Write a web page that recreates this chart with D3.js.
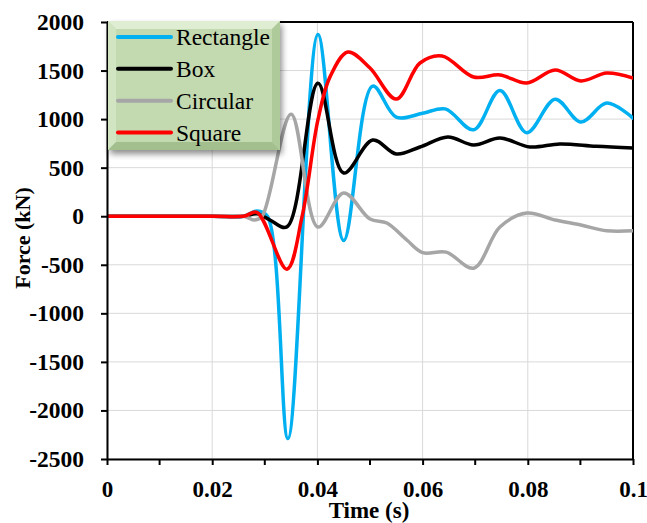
<!DOCTYPE html>
<html>
<head>
<meta charset="utf-8">
<script src="https://cdn.jsdelivr.net/npm/d3@7"></script>
<style>
  html, body { margin: 0; padding: 0; background: #fff; }
  svg { display: block; }
  text { font-family: "Liberation Serif", "Times New Roman", serif; }
</style>
</head>
<body>
<svg id="chart" width="647" height="523"></svg>
<script>
// Force histories (time in s, force in kN)
const rectangleT = [0, 0.02, 0.026, 0.0285, 0.0305, 0.0344, 0.0401, 0.0450, 0.0505, 0.0550, 0.0600, 0.0643, 0.0697, 0.0747, 0.0798, 0.0852, 0.0901, 0.0950, 0.1];
const rectangleF = [0, 0, 0, 55, 0, -2290, 1870, -250, 1340, 1020, 1060, 1105, 890, 1295, 860, 1205, 970, 1165, 1010];

const boxT = [0, 0.02, 0.026, 0.0285, 0.0310, 0.0342, 0.0401, 0.0450, 0.0505, 0.0550, 0.0595, 0.0648, 0.0697, 0.0747, 0.0804, 0.0861, 0.0930, 0.1];
const boxF = [0, 0, 0, 25, -40, -110, 1370, 445, 785, 641, 713, 816, 733, 805, 713, 744, 720, 703];

const circularT = [0, 0.02, 0.026, 0.0281, 0.0295, 0.0350, 0.0401, 0.0450, 0.0500, 0.0532, 0.0570, 0.0600, 0.0645, 0.0697, 0.0747, 0.0798, 0.0852, 0.0901, 0.0950, 0.1];
const circularF = [0, 0, 0, -40, 0, 1050, -111, 239, -29, -70, -245, -375, -370, -535, -111, 33, -39, -91, -150, -150];

const squareT = [0, 0.02, 0.026, 0.0285, 0.0342, 0.0371, 0.0401, 0.0424, 0.0458, 0.0500, 0.0550, 0.0595, 0.0637, 0.0697, 0.0747, 0.0798, 0.0852, 0.0901, 0.0950, 0.1];
const squareF = [0, 0, 0, 40, -545, 0, 991, 1435, 1691, 1526, 1206, 1578, 1650, 1433, 1455, 1372, 1506, 1393, 1475, 1423];

const seriesNames = ["Rectangle", "Box", "Circular", "Square"];
const seriesColors = ["#00b0f0", "#000000", "#a6a6a6", "#ff0000"];

const xTicks = [0, 0.02, 0.04, 0.06, 0.08, 0.1];
const xTickLabels = ["0", "0.02", "0.04", "0.06", "0.08", "0.1"];
const xMinorTicks = [0.01, 0.03, 0.05, 0.07, 0.09];
const yTicks = [-2500, -2000, -1500, -1000, -500, 0, 500, 1000, 1500, 2000];

const series = [
  { name: seriesNames[0], color: seriesColors[0], t: rectangleT, f: rectangleF },
  { name: seriesNames[1], color: seriesColors[1], t: boxT, f: boxF },
  { name: seriesNames[2], color: seriesColors[2], t: circularT, f: circularF },
  { name: seriesNames[3], color: seriesColors[3], t: squareT, f: squareF }
];

const svg = d3.select("#chart");
const plotL = 107, plotR = 633, plotT = 22, plotB = 459;
const serif = "'Liberation Serif', 'Times New Roman', serif";

const x = d3.scaleLinear().domain([0, 0.1]).range([plotL, plotR]);
const y = d3.scaleLinear().domain([-2500, 2000]).range([plotB, plotT]);

const defs = svg.append("defs");
defs.append("clipPath").attr("id", "plotClip")
  .append("rect").attr("x", plotL).attr("y", plotT).attr("width", plotR - plotL).attr("height", plotB - plotT);

// Gridlines
const grid = svg.append("g");
grid.selectAll("line.hy").data(yTicks).join("line")
  .attr("class", "hy")
  .attr("x1", plotL).attr("x2", plotR)
  .attr("y1", d => y(d)).attr("y2", d => y(d))
  .attr("stroke", "#d9d9d9").attr("stroke-width", 1);
grid.selectAll("line.vx").data(xTicks).join("line")
  .attr("class", "vx")
  .attr("y1", plotT).attr("y2", plotB)
  .attr("x1", d => x(d)).attr("x2", d => x(d))
  .attr("stroke", "#d9d9d9").attr("stroke-width", 1);

// Frame (top and right)
svg.append("line").attr("x1", plotL).attr("x2", plotR).attr("y1", plotT).attr("y2", plotT)
  .attr("stroke", "#000").attr("stroke-width", 2);
svg.append("line").attr("x1", plotR).attr("x2", plotR).attr("y1", plotT).attr("y2", plotB)
  .attr("stroke", "#000").attr("stroke-width", 2);

// Lines
const line = d3.line()
  .x(d => x(d[0])).y(d => y(d[1]))
  .curve(d3.curveCatmullRom.alpha(0.5));

const lines = svg.append("g").attr("clip-path", "url(#plotClip)");
series.forEach(s => {
  const pts = s.t.map((t, i) => [t, s.f[i]]);
  lines.append("path").datum(pts)
    .attr("d", line)
    .attr("fill", "none")
    .attr("stroke", s.color)
    .attr("stroke-width", 3.5)
    .attr("stroke-linejoin", "round")
    .attr("stroke-linecap", "round");
});

// Axes
const xAxis = d3.axisBottom(x).tickValues(xTicks).tickFormat((d, i) => xTickLabels[i]).tickSize(6).tickSizeOuter(0);
const gx = svg.append("g").attr("transform", `translate(0,${plotB})`).call(xAxis);
gx.select(".domain").attr("stroke", "#000").attr("stroke-width", 2);
gx.selectAll(".tick line").attr("stroke", "#000").attr("stroke-width", 2);
gx.selectAll(".tick text")
  .attr("font-family", serif)
  .attr("font-size", 23).attr("font-weight", "bold").attr("fill", "#000")
  .attr("y", 38).attr("dy", null);
gx.selectAll("line.minor").data(xMinorTicks).join("line")
  .attr("class", "minor")
  .attr("x1", d => x(d)).attr("x2", d => x(d))
  .attr("y1", 0).attr("y2", 6)
  .attr("stroke", "#000").attr("stroke-width", 2);

const yAxis = d3.axisLeft(y).tickValues(yTicks).tickFormat(d => String(d)).tickSize(6).tickSizeOuter(0);
const gy = svg.append("g").attr("transform", `translate(${plotL},0)`).call(yAxis);
gy.select(".domain").attr("stroke", "#000").attr("stroke-width", 2);
gy.selectAll(".tick line").attr("stroke", "#000").attr("stroke-width", 2);
gy.selectAll(".tick text")
  .attr("font-family", serif)
  .attr("font-size", 23.5).attr("font-weight", "bold").attr("fill", "#000")
  .attr("text-anchor", "end")
  .attr("x", -23);

// Axis titles
svg.append("text")
  .attr("x", 369).attr("y", 518)
  .attr("text-anchor", "middle")
  .attr("font-size", 23).attr("font-weight", "bold")
  .text("Time (s)");
svg.append("text")
  .attr("transform", `translate(30,238) rotate(-90)`)
  .attr("text-anchor", "middle")
  .attr("font-size", 22).attr("font-weight", "bold")
  .text("Force (kN)");

// Legend with bevelled green panel
const lg = { x: 108, y: 21, w: 172, h: 129, b: 8 };
const shadow = defs.append("filter").attr("id", "lgShadow")
  .attr("x", "-10%").attr("y", "-10%").attr("width", "130%").attr("height", "130%");
shadow.append("feGaussianBlur").attr("in", "SourceAlpha").attr("stdDeviation", 3);
shadow.append("feOffset").attr("dx", 2).attr("dy", 4).attr("result", "off");
shadow.append("feComponentTransfer").append("feFuncA").attr("type", "linear").attr("slope", 0.45);
const merge = shadow.append("feMerge");
merge.append("feMergeNode");
merge.append("feMergeNode").attr("in", "SourceGraphic");

const legend = svg.append("g");
legend.append("rect")
  .attr("x", lg.x).attr("y", lg.y).attr("width", lg.w).attr("height", lg.h)
  .attr("fill", "#c3d9b0").attr("filter", "url(#lgShadow)");
// bevel edges
const bx0 = lg.x, by0 = lg.y, bx1 = lg.x + lg.w, by1 = lg.y + lg.h, bv = lg.b;
legend.append("polygon")
  .attr("points", [[bx0, by0], [bx1, by0], [bx1 - bv, by0 + bv], [bx0 + bv, by0 + bv]].join(" "))
  .attr("fill", "#dfeed3");
legend.append("polygon")
  .attr("points", [[bx0, by0], [bx0 + bv, by0 + bv], [bx0 + bv, by1 - bv], [bx0, by1]].join(" "))
  .attr("fill", "#d2e5c3");
legend.append("polygon")
  .attr("points", [[bx1, by0], [bx1, by1], [bx1 - bv, by1 - bv], [bx1 - bv, by0 + bv]].join(" "))
  .attr("fill", "#aec99a");
legend.append("polygon")
  .attr("points", [[bx0, by1], [bx0 + bv, by1 - bv], [bx1 - bv, by1 - bv], [bx1, by1]].join(" "))
  .attr("fill", "#a3bf8e");

const rowY = d3.scaleLinear().domain([0, 3]).range([37, 132.5]);
series.forEach((s, i) => {
  const yy = rowY(i);
  legend.append("line")
    .attr("x1", 118).attr("x2", 171).attr("y1", yy).attr("y2", yy)
    .attr("stroke", s.color).attr("stroke-width", 4).attr("stroke-linecap", "round");
  legend.append("text")
    .attr("x", 176).attr("y", yy + 8)
    .attr("font-size", 23.5).attr("fill", "#000")
    .text(s.name);
});
</script>
</body>
</html>
